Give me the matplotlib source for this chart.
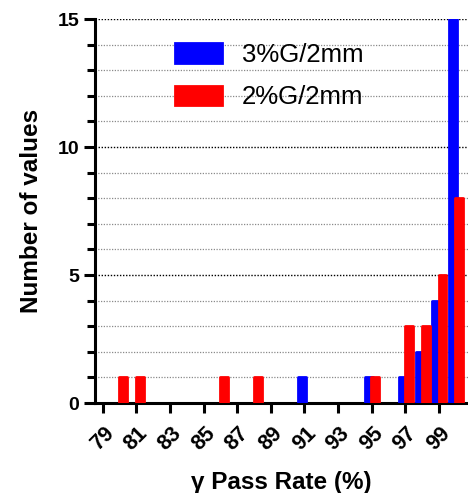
import matplotlib
matplotlib.use("Agg")
import matplotlib.pyplot as plt
from matplotlib.ticker import MultipleLocator

plt.rcParams['font.family'] = ['Liberation Sans', 'DejaVu Sans']

# pass rate bins (%) and counts per criterion
bins_3 = [91, 95, 97, 98, 99, 100]
counts_3 = [1, 1, 1, 2, 4, 15]
bins_2 = [80, 81, 86, 88, 95, 97, 98, 99, 100]
counts_2 = [1, 1, 1, 1, 1, 3, 3, 5, 8]
xticks = list(range(79, 100, 2))

fig = plt.figure(figsize=(4.68, 4.93), dpi=100)
ax = fig.add_axes([95/468, 90/493, 1 - 95/468, 384/493])

ax.bar([b - 0.15 for b in bins_3], counts_3, width=0.46, color='#0000ff',
       edgecolor='#0000ff', linewidth=2, joinstyle='round', label='3%G/2mm', zorder=3)
ax.bar([b + 0.22 for b in bins_2], counts_2, width=0.46, color='#ff0000',
       edgecolor='#ff0000', linewidth=2, joinstyle='round', label='2%G/2mm', zorder=4)

ax.set_xlim(78.54, 100.74)
ax.set_ylim(0, 15)
ax.set_xticks(xticks)
ax.set_xticklabels([str(t) for t in xticks], rotation=45, ha='center', va='top')
ax.yaxis.set_major_locator(MultipleLocator(5))
ax.yaxis.set_minor_locator(MultipleLocator(1))

ax.grid(axis='y', which='minor', linestyle=(0, (1, 1.2)), color='#8a8a8a', linewidth=0.9, zorder=0)
ax.grid(axis='y', which='major', linestyle=(0, (1, 1.2)), color='black', linewidth=1.0, zorder=0)

for s in ['top', 'right']:
    ax.spines[s].set_visible(False)
for s in ['left', 'bottom']:
    ax.spines[s].set_linewidth(2.2)

ax.tick_params(axis='x', which='major', length=7, width=2.2, pad=7, labelsize=15.5)
ax.tick_params(axis='y', which='major', length=8, width=2.2, labelsize=14)
ax.tick_params(axis='y', which='minor', length=6, width=2.2)
for lab in ax.get_xticklabels() + ax.get_yticklabels():
    lab.set_fontweight('bold')

ax.set_ylabel('Number of values', fontsize=17.5, fontweight='bold', labelpad=10)
ax.set_xlabel('γ Pass Rate (%)', fontsize=17.5, fontweight='bold', labelpad=12)

ax.legend(loc='upper left', bbox_to_anchor=(175/468, 1 - 43/493), bbox_transform=fig.transFigure,
          frameon=False, fontsize=18.5, handlelength=1.83, handleheight=0.78,
          handletextpad=0.77, labelspacing=0.71, borderpad=0, borderaxespad=0)

plt.savefig('out.png', dpi=100)
plt.close('all')
